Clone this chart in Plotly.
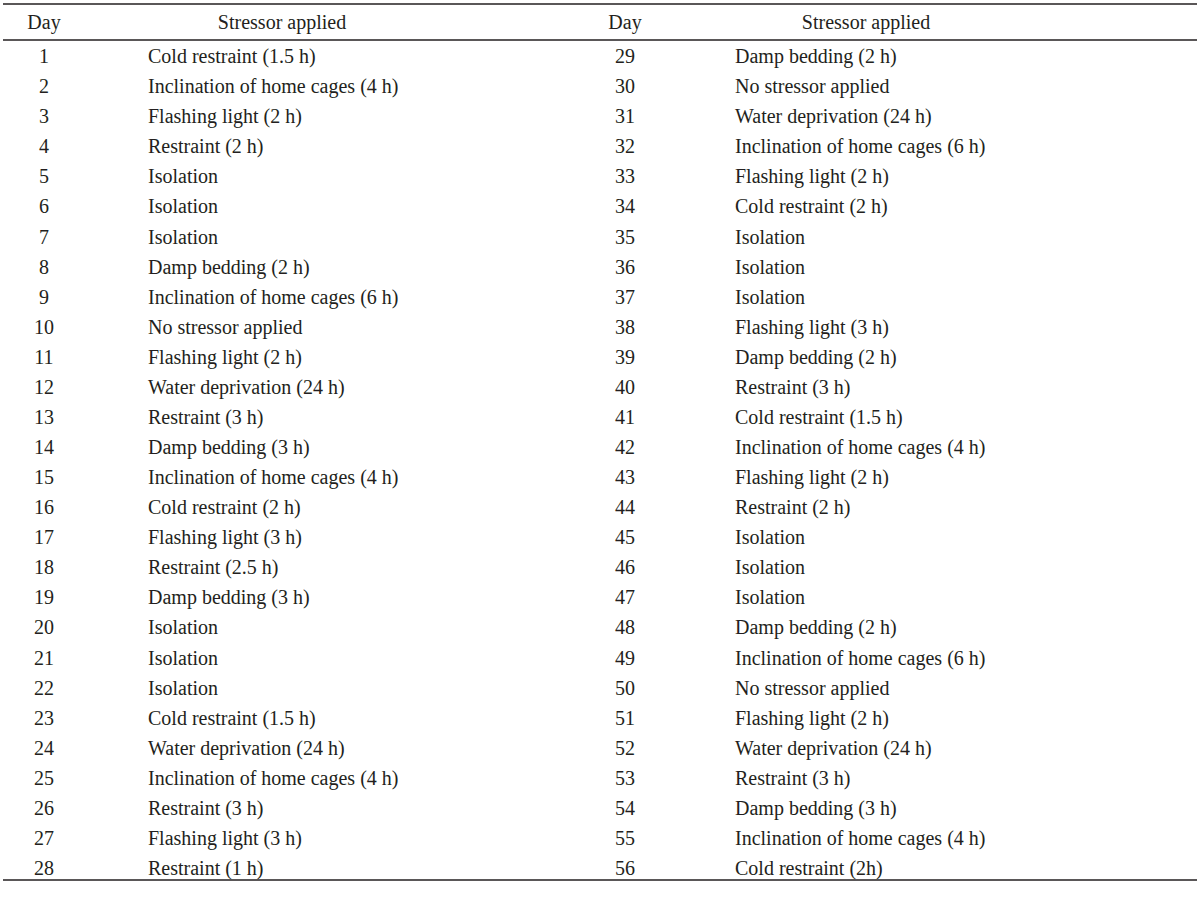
import plotly.graph_objects as go

days_left = list(range(1, 29))
stressors_left = [
    "Cold restraint (1.5 h)", "Inclination of home cages (4 h)", "Flashing light (2 h)",
    "Restraint (2 h)", "Isolation", "Isolation", "Isolation", "Damp bedding (2 h)",
    "Inclination of home cages (6 h)", "No stressor applied", "Flashing light (2 h)",
    "Water deprivation (24 h)", "Restraint (3 h)", "Damp bedding (3 h)",
    "Inclination of home cages (4 h)", "Cold restraint (2 h)", "Flashing light (3 h)",
    "Restraint (2.5 h)", "Damp bedding (3 h)", "Isolation", "Isolation", "Isolation",
    "Cold restraint (1.5 h)", "Water deprivation (24 h)", "Inclination of home cages (4 h)",
    "Restraint (3 h)", "Flashing light (3 h)", "Restraint (1 h)",
]
days_right = list(range(29, 57))
stressors_right = [
    "Damp bedding (2 h)", "No stressor applied", "Water deprivation (24 h)",
    "Inclination of home cages (6 h)", "Flashing light (2 h)", "Cold restraint (2 h)",
    "Isolation", "Isolation", "Isolation", "Flashing light (3 h)", "Damp bedding (2 h)",
    "Restraint (3 h)", "Cold restraint (1.5 h)", "Inclination of home cages (4 h)",
    "Flashing light (2 h)", "Restraint (2 h)", "Isolation", "Isolation", "Isolation",
    "Damp bedding (2 h)", "Inclination of home cages (6 h)", "No stressor applied",
    "Flashing light (2 h)", "Water deprivation (24 h)", "Restraint (3 h)",
    "Damp bedding (3 h)", "Inclination of home cages (4 h)", "Cold restraint (2h)",
]
headers = ["Day", "Stressor applied", "Day", "Stressor applied"]

FONT = dict(family="Liberation Serif, DejaVu Serif, serif", size=20, color="#231f20")

# column positions (x in page-width units)
X_DAY_L, X_STR_L, X_HDR_L = 44, 148, 282
X_DAY_R, X_STR_R, X_HDR_R = 625, 735, 866

rows = list(range(1, 29))
HEADER_Y = -0.13

fig = go.Figure()
fig.add_trace(go.Scatter(x=[X_DAY_L] * 28, y=rows, text=[str(d) for d in days_left],
                         mode="text", textposition="middle center", textfont=FONT,
                         hoverinfo="skip", showlegend=False))
fig.add_trace(go.Scatter(x=[X_STR_L] * 28, y=rows, text=stressors_left,
                         mode="text", textposition="middle right", textfont=FONT,
                         hoverinfo="skip", showlegend=False))
fig.add_trace(go.Scatter(x=[X_DAY_R] * 28, y=rows, text=[str(d) for d in days_right],
                         mode="text", textposition="middle center", textfont=FONT,
                         hoverinfo="skip", showlegend=False))
fig.add_trace(go.Scatter(x=[X_STR_R] * 28, y=rows, text=stressors_right,
                         mode="text", textposition="middle right", textfont=FONT,
                         hoverinfo="skip", showlegend=False))
fig.add_trace(go.Scatter(x=[X_DAY_L, X_HDR_L, X_DAY_R, X_HDR_R], y=[HEADER_Y] * 4,
                         text=headers, mode="text", textposition="middle center",
                         textfont=FONT, hoverinfo="skip", showlegend=False))

line = dict(color="#231f20", width=1.5)
for yv in (-0.80, 0.40, 28.33):
    fig.add_shape(type="line", xref="x", yref="y", x0=3, x1=1197, y0=yv, y1=yv, line=line)

fig.update_xaxes(range=[0, 1200], visible=False, fixedrange=True)
fig.update_yaxes(range=[29.43, -0.932], visible=False, fixedrange=True)
fig.update_layout(width=1200, height=913, margin=dict(l=0, r=0, t=0, b=0),
                  paper_bgcolor="white", plot_bgcolor="white")

fig.write_html("out.html", config={"displayModeBar": False},
               post_script="document.body.style.margin='0';document.body.style.overflow='hidden';")
